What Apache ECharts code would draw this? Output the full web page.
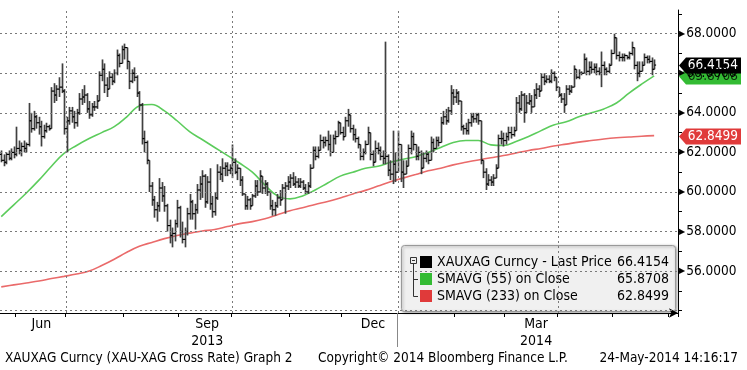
<!DOCTYPE html>
<html><head><meta charset="utf-8">
<script src="https://cdn.jsdelivr.net/npm/echarts@6/dist/echarts.min.js"></script>
<style>html,body{margin:0;padding:0;background:#fff}#c{width:747px;height:370px}</style>
</head><body><div id="c"></div>
<script>
// ---------------- DATA ----------------
const firstDate = '2013-05-24';
const lastAxisDate = '2014-06-05';

const openValues = [
61.9,61.6,61.5,61.9,61.7,62.0,61.9,62.2,62.1,62.3,
62.2,62.4,63.6,63.2,63.8,63.5,63.3,62.8,63.1,63.3,
63.2,65.1,64.9,65.2,65.3,65.1,63.2,63.6,64.1,63.8,
63.5,64.0,64.7,64.8,64.9,64.2,63.9,64.3,64.3,64.6,
65.9,66.2,65.4,65.2,65.8,65.6,66.0,66.9,66.5,67.2,
67.3,66.6,65.6,66.0,65.8,65.0,64.4,62.7,62.5,61.6,
60.3,59.6,59.1,59.3,60.2,59.8,59.3,58.3,57.8,57.9,
58.4,59.2,58.0,57.6,58.0,58.9,59.5,58.9,59.1,60.1,
60.4,60.8,59.5,60.5,59.4,59.0,59.7,61.0,60.9,61.2,
61.3,61.1,61.2,61.5,61.0,61.2,60.6,59.9,59.3,59.6,
59.3,59.8,60.3,60.0,60.8,60.2,60.4,60.0,59.3,59.1,
59.3,59.7,59.6,60.2,60.3,60.5,60.7,60.4,60.5,60.3,
60.5,60.2,60.0,60.3,61.2,62.1,61.8,62.1,62.6,62.5,
62.6,62.4,62.0,62.7,62.8,63.5,63.0,62.8,63.6,63.9,
63.2,62.9,62.7,62.4,61.8,62.0,62.4,63.0,61.9,61.5,
62.2,62.1,61.8,61.7,61.8,61.1,60.9,61.4,61.0,62.4,
61.0,60.9,61.3,62.2,62.8,62.4,61.8,62.0,61.2,61.7,
61.9,61.6,62.5,62.2,62.6,62.5,63.5,63.8,63.6,64.1,
65.0,64.8,65.0,64.6,63.3,63.2,63.1,63.5,63.8,63.7,
63.9,63.6,61.6,61.0,60.4,60.6,60.5,60.7,61.2,62.7,
62.7,62.6,62.8,63.0,62.9,63.1,64.5,64.2,64.9,64.0,
64.5,64.6,64.3,64.9,65.2,65.1,65.8,65.6,65.7,65.6,
66.0,65.8,65.3,64.9,64.7,64.4,65.2,65.1,65.3,66.2,
65.8,66.0,66.0,66.7,66.1,66.3,66.2,66.3,66.1,66.0,
66.4,66.2,66.1,66.4,67.0,67.8,66.9,66.8,66.8,66.9,
66.8,67.0,67.3,66.4,66.0,66.1,66.4,66.8,66.7,66.6,
66.2];

const highValues = [
62.1,61.9,62.0,62.1,62.2,62.3,63.3,62.6,62.5,62.6,
62.5,64.5,64.0,64.1,63.9,63.8,63.6,63.4,63.5,63.4,
65.3,65.5,65.4,65.8,66.5,65.2,63.8,64.3,64.3,64.1,
64.2,65.0,65.2,65.4,65.0,64.6,64.5,64.6,64.9,66.1,
66.7,66.5,65.8,66.1,66.0,66.2,67.2,67.0,67.4,67.5,
67.3,66.6,66.2,66.3,65.9,65.1,64.5,63.1,62.6,61.6,
60.5,59.8,59.5,60.7,60.5,60.3,59.4,58.6,58.2,58.6,
59.6,59.3,58.5,58.2,59.2,59.9,59.6,59.4,60.4,60.8,
61.1,60.9,60.8,61.2,59.8,60.0,61.4,61.3,61.7,61.5,
61.5,61.4,62.4,61.7,61.4,61.2,60.8,59.9,59.8,59.7,
59.9,60.6,60.6,61.1,60.8,60.6,60.5,60.0,59.6,59.5,
59.9,60.1,60.4,60.5,60.8,60.9,61.0,60.8,60.7,60.7,
60.6,60.4,60.5,61.4,62.3,62.3,62.3,62.9,62.8,62.8,
63.1,62.9,62.9,63.1,63.6,63.5,63.3,63.8,64.2,63.9,
63.4,63.2,62.8,62.4,62.2,62.6,63.3,63.0,62.1,62.6,
62.5,62.3,62.1,67.6,61.9,61.6,63.1,62.0,63.1,62.4,
61.6,61.6,62.4,63.1,63.0,62.4,62.3,62.1,62.0,62.1,
62.0,62.8,62.7,62.8,62.8,63.8,64.1,64.2,64.3,65.4,
65.2,65.2,65.1,64.6,63.4,63.5,63.7,64.0,64.0,64.0,
64.0,63.6,61.6,61.2,60.9,60.8,60.9,61.4,62.9,63.1,
63.0,63.0,63.3,63.3,63.3,64.8,64.9,65.1,65.0,64.9,
65.0,64.9,65.2,65.5,65.4,66.0,66.0,65.9,65.9,66.2,
66.1,65.8,65.3,65.0,65.0,65.4,65.4,65.4,66.4,66.2,
66.2,66.1,67.0,66.8,66.6,66.6,66.5,66.5,66.3,67.1,
66.6,66.3,66.5,67.2,68.0,67.8,67.1,67.0,67.0,66.9,
67.1,67.6,67.3,66.6,66.6,66.6,67.0,66.9,66.9,66.8,
66.7];

const lowValues = [
61.5,61.3,61.4,61.6,61.6,61.7,61.8,61.9,61.8,62.0,
62.0,62.3,63.0,63.1,63.2,62.9,62.3,62.7,63.0,63.1,
63.2,64.5,64.6,64.8,65.0,62.9,62.0,63.4,63.5,63.2,
63.3,63.9,64.4,64.5,64.0,63.7,63.8,64.1,64.2,64.6,
65.6,65.0,64.8,65.2,65.4,65.5,65.9,66.3,66.5,66.7,
66.2,65.2,65.5,65.6,64.8,64.1,62.4,62.0,61.4,60.0,
59.3,58.7,58.5,59.0,59.5,59.0,58.0,57.4,57.2,57.5,
58.2,57.7,57.4,57.2,57.8,58.6,58.6,58.1,58.9,59.6,
59.7,59.2,59.4,59.1,58.7,58.8,59.6,60.6,60.5,60.8,
60.8,60.9,60.7,60.9,60.6,60.3,59.8,59.1,59.1,59.1,
59.3,59.7,59.8,60.0,59.9,59.9,59.8,59.1,58.8,58.8,
59.2,59.3,59.6,58.9,60.1,60.2,60.3,60.2,60.2,60.2,
60.1,59.9,59.9,60.2,61.2,61.6,61.7,62.1,62.2,62.3,
62.1,61.8,62.0,62.4,62.8,62.9,62.6,62.8,63.3,63.0,
62.6,62.5,62.2,61.6,61.6,61.9,62.4,61.6,61.3,61.5,
61.9,61.6,61.4,61.4,60.8,60.6,60.4,60.5,61.0,60.5,
60.2,60.9,61.3,61.9,62.1,61.6,61.6,60.9,61.2,61.5,
61.4,61.6,62.0,62.2,62.3,62.5,63.4,63.4,63.5,63.9,
64.4,64.5,64.4,63.1,62.9,62.9,62.9,63.3,63.5,63.5,
63.4,61.4,60.7,60.1,60.3,60.3,60.3,60.7,61.2,62.4,
62.3,62.4,62.6,62.7,62.8,63.1,64.0,64.1,63.5,64.0,
64.4,64.0,64.3,64.7,64.8,65.1,65.4,65.5,65.5,65.5,
65.6,65.1,64.8,64.5,64.0,64.4,64.9,65.0,65.3,65.7,
65.7,65.9,66.0,65.9,65.9,66.0,66.0,65.9,65.9,65.3,
65.9,65.9,66.0,66.4,67.0,66.7,66.6,66.6,66.6,66.7,
66.7,66.9,66.2,65.6,65.8,66.1,66.4,66.5,66.5,65.9,
66.2];

const closeValues = [
61.6,61.5,61.9,61.7,62.0,61.9,62.2,62.1,62.3,62.2,
62.4,63.6,63.2,63.8,63.5,63.3,62.8,63.1,63.3,63.2,
65.1,64.9,65.2,65.3,65.1,63.2,63.6,64.1,63.8,63.5,
64.0,64.7,64.8,64.9,64.2,63.9,64.3,64.3,64.6,65.9,
66.2,65.4,65.2,65.8,65.6,66.0,66.9,66.5,67.2,67.3,
66.6,65.6,66.0,65.8,65.0,64.4,62.7,62.5,61.6,60.3,
59.6,59.1,59.3,60.2,59.8,59.3,58.3,57.8,57.9,58.4,
59.2,58.0,57.6,58.0,58.9,59.5,58.9,59.1,60.1,60.4,
60.8,59.5,60.5,59.4,59.0,59.7,61.0,60.9,61.2,61.3,
61.1,61.2,61.5,61.0,61.2,60.6,59.9,59.3,59.6,59.3,
59.8,60.3,60.0,60.8,60.2,60.4,60.0,59.3,59.1,59.3,
59.7,59.6,60.2,60.3,60.5,60.7,60.4,60.5,60.3,60.5,
60.2,60.0,60.3,61.2,62.1,61.8,62.1,62.6,62.5,62.6,
62.4,62.0,62.7,62.8,63.5,63.0,62.8,63.6,63.9,63.2,
62.9,62.7,62.4,61.8,62.0,62.4,63.0,61.9,61.5,62.2,
62.1,61.8,61.7,61.8,61.1,60.9,61.4,61.0,62.4,61.0,
60.9,61.3,62.2,62.8,62.4,61.8,62.0,61.2,61.7,61.9,
61.6,62.5,62.2,62.6,62.5,63.5,63.8,63.6,64.1,65.0,
64.8,65.0,64.6,63.3,63.2,63.1,63.5,63.8,63.7,63.9,
63.6,61.6,61.0,60.4,60.6,60.5,60.7,61.2,62.7,62.7,
62.6,62.8,63.0,62.9,63.1,64.5,64.2,64.9,64.0,64.5,
64.6,64.3,64.9,65.2,65.1,65.8,65.6,65.7,65.6,66.0,
65.8,65.3,64.9,64.7,64.4,65.2,65.1,65.3,66.2,65.8,
66.0,66.0,66.7,66.1,66.3,66.2,66.3,66.1,66.0,66.4,
66.2,66.1,66.4,67.0,67.8,66.9,66.8,66.8,66.9,66.8,
67.0,67.3,66.4,66.0,66.1,66.4,66.8,66.7,66.6,66.2,
66.4154];

// moving averages read every 5th trading day
const maSampleStep = 5;
const sma55Values = [
58.75,59.35,59.95,60.6,61.3,61.95,62.35,62.7,63.0,63.3,
63.8,64.35,64.42,64.1,63.6,63.05,62.65,62.25,61.85,61.45,
61.0,60.35,59.8,59.65,59.8,60.1,60.45,60.8,61.0,61.2,
61.3,61.5,61.65,61.78,62.0,62.25,62.5,62.6,62.6,62.38,
62.35,62.55,62.8,63.1,63.38,63.55,63.8,64.0,64.2,64.5,
65.0,65.45,65.8708];
const sma233Values = [
55.2,55.3,55.4,55.5,55.62,55.73,55.85,56.0,56.28,56.6,
56.95,57.25,57.45,57.64,57.8,57.92,58.03,58.1,58.25,58.4,
58.5,58.65,58.85,59.05,59.2,59.37,59.52,59.7,59.9,60.08,
60.3,60.52,60.7,60.88,61.07,61.2,61.37,61.5,61.62,61.73,
61.84,61.97,62.1,62.2,62.32,62.42,62.52,62.6,62.68,62.74,
62.78,62.82,62.8499];

const yLabelValues = [56, 58, 60, 62, 64, 66, 68];
const yGridValues = [54, 56, 58, 60, 62, 64, 66, 68];
const yTickValues = [54,55,56,57,58,59,60,61,62,63,64,65,66,67,68,69];
const quarterDates = ['2013-07-01', '2013-10-01', '2014-01-01', '2014-04-01'];
const monthLabelDates = ['2013-06-17', '2013-09-17', '2013-12-18', '2014-03-19'];
const monthLabels = ['Jun', 'Sep', 'Dec', 'Mar'];
const yearLabels = ['', '2013', '', '2014'];
const yearBoundaryDate = '2014-01-01';

const seriesNames = ['XAUXAG Curncy - Last Price', 'SMAVG (55) on Close', 'SMAVG (233) on Close'];
const footerTexts = ['XAUXAG Curncy (XAU-XAG Cross Rate) Graph 2', 'Copyright\u00A9 2014 Bloomberg Finance L.P.', '24-May-2014 14:16:17'];

// ---------------- BUILD ----------------
function weekdays(from, to) {
  const out = [];
  let d = new Date(from + 'T00:00:00Z');
  const e = new Date(to + 'T00:00:00Z');
  while (d <= e) {
    const w = d.getUTCDay();
    if (w !== 0 && w !== 6) out.push(d.toISOString().slice(0, 10));
    d = new Date(d.getTime() + 86400000);
  }
  return out;
}
const categories = weekdays(firstDate, lastAxisDate);
const monthStarts = new Set();
categories.forEach((c, i) => { if (i === 0 || c.slice(0, 7) !== categories[i - 1].slice(0, 7)) monthStarts.add(c); });

const ohlc = closeValues.map((c, i) => [i, openValues[i], highValues[i], lowValues[i], c]);
function sparse(vals) {
  const arr = new Array(categories.length).fill(null);
  vals.forEach((v, k) => { arr[k * maSampleStep] = v; });
  return arr;
}

const FONT = "'DejaVu Sans Condensed', 'DejaVu Sans', sans-serif";
const GREEN = '#5ccc5c', RED = '#ea6a6a';

const chart = echarts.init(document.getElementById('c'), null, { renderer: 'canvas' });
chart.setOption({
  animation: false,
  backgroundColor: '#ffffff',
  grid: { left: 0, right: 69, top: 10, bottom: 57, containLabel: false },
  xAxis: [{
    type: 'category', data: categories, boundaryGap: true,
    axisLine: { show: true, lineStyle: { color: '#000', width: 1 }, symbol: ['none', 'arrow'], symbolSize: [7, 9] },
    axisTick: { show: true, length: 4, lineStyle: { color: '#000' }, interval: (idx, val) => monthStarts.has(val) && idx > 0 },
    axisLabel: {
      show: true, color: '#000', fontFamily: FONT, fontSize: 14, lineHeight: 17, margin: 3,
      interval: (idx, val) => monthLabelDates.indexOf(val) >= 0,
      formatter: (val) => { const k = monthLabelDates.indexOf(val); return k < 0 ? '' : (yearLabels[k] ? monthLabels[k] + '\n' + yearLabels[k] : monthLabels[k]); }
    },
    splitLine: { show: false }
  }],
  yAxis: [{
    type: 'value', position: 'right', min: 53.88, max: 69.2, scale: true,
    axisLine: { show: true, lineStyle: { color: '#000', width: 1 } },
    axisTick: { show: true, length: 4, lineStyle: { color: '#000' }, customValues: yTickValues },
    axisLabel: {
      show: true, margin: 1, customValues: yLabelValues,
      formatter: (v) => '{t|\u25B6}{v|' + Number(v).toFixed(4) + '}',
      rich: {
        t: { fontSize: 8, fontFamily: "'DejaVu Sans', sans-serif", color: '#000', padding: [0, 1, 0, 0] },
        v: { fontSize: 13.5, fontFamily: FONT, color: '#000' }
      }
    },
    splitLine: { show: false }
  }],
  series: [
    {
      type: 'line', name: 'grid', data: [], silent: true, z: 1,
      markLine: {
        silent: true, symbol: 'none', animation: false, label: { show: false },
        lineStyle: { color: '#7a7a7a', type: [2, 3], width: 1 },
        emphasis: { disabled: true },
        data: yGridValues.map(v => ({ yAxis: v })).concat(quarterDates.map(d => ({ xAxis: d })))
      }
    },
    {
      type: 'line', name: seriesNames[2], data: sparse(sma233Values), connectNulls: true, smooth: 0.4,
      showSymbol: false, symbol: 'none', z: 3, lineStyle: { color: RED, width: 1.6 }, silent: true
    },
    {
      type: 'line', name: seriesNames[1], data: sparse(sma55Values), connectNulls: true, smooth: 0.4,
      showSymbol: false, symbol: 'none', z: 3, lineStyle: { color: GREEN, width: 1.6 }, silent: true
    },
    {
      type: 'custom', name: seriesNames[0], data: ohlc, z: 4, silent: true,
      encode: { x: 0, y: [1, 2, 3, 4] },
      renderItem: function (params, api) {
        const i = api.value(0);
        const x = Math.round(api.coord([i, 0])[0]) + 0.5;
        const yO = api.coord([i, api.value(1)])[1];
        const yH = api.coord([i, api.value(2)])[1];
        const yL = api.coord([i, api.value(3)])[1];
        const yC = api.coord([i, api.value(4)])[1];
        const w = 1.6;
        return {
          type: 'group', children: [
            { type: 'line', shape: { x1: x, y1: yH, x2: x, y2: yL }, style: { stroke: '#404040', lineWidth: 1.7 } },
            { type: 'line', shape: { x1: x - w, y1: yO, x2: x, y2: yO }, style: { stroke: '#000', lineWidth: 1.2 } },
            { type: 'line', shape: { x1: x, y1: yC, x2: x + w, y2: yC }, style: { stroke: '#000', lineWidth: 1.2 } }
          ]
        };
      }
    }
  ]
});

// ---------------- overlays (tags, legend, footer) ----------------
const lastClose = closeValues[closeValues.length - 1];
const lastSma55 = sma55Values[sma55Values.length - 1];
const lastSma233 = sma233Values[sma233Values.length - 1];
const yPix = v => chart.convertToPixel({ yAxisIndex: 0 }, v);
const xPix = d => chart.convertToPixel({ xAxisIndex: 0 }, d);

function tag(v, fill, textColor, z) {
  const y = Math.round(yPix(v)) + 0.5;
  const x0 = 679, x1 = 741, h = 8;
  return {
    type: 'group', z: z, children: [
      { type: 'polygon', shape: { points: [[x0, y], [x0 + 7, y - h], [x1, y - h], [x1, y + h], [x0 + 7, y + h]] }, style: { fill: fill } },
      { type: 'text', x: x1 - 3, y: y, style: { text: v.toFixed(4), fill: textColor, font: '13.5px ' + FONT, align: 'right', verticalAlign: 'middle' } }
    ]
  };
}

const bandW = 678 / categories.length;
const sepX = Math.round(xPix(yearBoundaryDate) - bandW / 2) + 0.5;

const LX = 401, LY = 245, LW = 274, LH = 66;
const rowY = [262, 279, 296];
const rowColors = ['#000000', '#33bb33', '#e03a3a'];
const rowValues = [lastClose, lastSma55, lastSma233];
const legendChildren = [
  { type: 'rect', shape: { x: LX + 0.5, y: LY + 0.5, width: LW, height: LH, r: 3 }, style: { fill: '#f0f0f0', stroke: '#9a9a9a', lineWidth: 1, shadowBlur: 3, shadowOffsetX: 1, shadowOffsetY: 1, shadowColor: 'rgba(0,0,0,0.35)' } },
  { type: 'rect', shape: { x: 410.5, y: 257.5, width: 6, height: 6 }, style: { fill: '#f0f0f0', stroke: '#333', lineWidth: 1 } },
  { type: 'line', shape: { x1: 412, y1: 260.5, x2: 415, y2: 260.5 }, style: { stroke: '#333', lineWidth: 1 } },
  { type: 'polyline', shape: { points: [[413.5, 264], [413.5, 296.5], [418, 296.5]] }, style: { stroke: '#333', lineWidth: 1, fill: null } },
  { type: 'line', shape: { x1: 413.5, y1: 279.5, x2: 418, y2: 279.5 }, style: { stroke: '#333', lineWidth: 1 } }
];
rowY.forEach((y, k) => {
  legendChildren.push({ type: 'rect', shape: { x: 420, y: y - 6, width: 12, height: 12 }, style: { fill: rowColors[k] } });
  legendChildren.push({ type: 'text', x: 437, y: y, style: { text: seriesNames[k], fill: '#000', font: '14px ' + FONT, verticalAlign: 'middle' } });
  legendChildren.push({ type: 'text', x: 669, y: y, style: { text: rowValues[k].toFixed(4), fill: '#000', font: '14px ' + FONT, align: 'right', verticalAlign: 'middle' } });
});

chart.setOption({
  graphic: [
    tag(lastSma233, '#e03a3a', '#ffffff', 50),
    tag(lastSma55, '#33bb33', '#0c2a0c', 50),
    tag(lastClose, '#000000', '#ffffff', 51),
    { type: 'line', z: 40, shape: { x1: sepX, y1: 313, x2: sepX, y2: 347 }, style: { stroke: '#888', lineWidth: 1 } },
    { type: 'group', z: 60, children: legendChildren },
    { type: 'text', z: 40, x: 5, y: 358, style: { text: footerTexts[0], fill: '#000', font: '13.5px ' + FONT, verticalAlign: 'middle' } },
    { type: 'text', z: 40, x: 318, y: 358, style: { text: footerTexts[1], fill: '#000', font: '13.5px ' + FONT, verticalAlign: 'middle' } },
    { type: 'text', z: 40, x: 738, y: 358, style: { text: footerTexts[2], fill: '#000', font: '13.5px ' + FONT, align: 'right', verticalAlign: 'middle' } }
  ]
});
</script>
</body></html>
